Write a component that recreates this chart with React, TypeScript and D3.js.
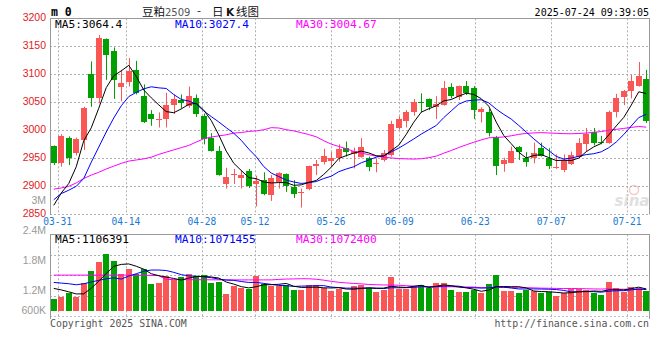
import React from "react";
import * as d3 from "d3";

// trading days shown (03-28 .. 07-24)
const dates = [
  "03-28", "03-31", "04-01", "04-02", "04-03", "04-07", "04-08", "04-09", "04-10", "04-11",
  "04-14", "04-15", "04-16", "04-17", "04-18", "04-21", "04-22", "04-23", "04-24", "04-25",
  "04-28", "04-29", "04-30", "05-06", "05-07", "05-08", "05-09", "05-12", "05-13", "05-14",
  "05-15", "05-16", "05-19", "05-20", "05-21", "05-22", "05-23", "05-26", "05-27", "05-28",
  "05-29", "05-30", "06-03", "06-04", "06-05", "06-06", "06-09", "06-10", "06-11", "06-12",
  "06-13", "06-16", "06-17", "06-18", "06-19", "06-20", "06-23", "06-24", "06-25", "06-26",
  "06-27", "06-30", "07-01", "07-02", "07-03", "07-04", "07-07", "07-08", "07-09", "07-10",
  "07-11", "07-14", "07-15", "07-16", "07-17", "07-18", "07-21", "07-22", "07-23", "07-24",
];

const opens = [
  2972, 2942, 2986, 2960, 2983, 3100, 3057, 3163, 3142, 3078,
  3087, 3108, 3061, 3029, 3020, 3020, 3046, 3054, 3044, 3057,
  3026, 2986, 2963, 2904, 2920, 2914, 2927, 2904, 2911, 2885,
  2908, 2922, 2898, 2888, 2895, 2937, 2944, 2945, 2951, 2968,
  2957, 2953, 2950, 2940, 2947, 2956, 3004, 3016, 3032, 3050,
  3056, 3041, 3045, 3078, 3060, 3079, 3076, 3033, 3033, 2988,
  2940, 2942, 2970, 2951, 2951, 2968, 2951, 2934, 2929, 2940,
  2953, 2976, 2997, 2980, 2978, 3032, 3060, 3070, 3080, 3091,
];
const highs = [
  2973, 2993, 2989, 2987, 3042, 3123, 3170, 3164, 3148, 3108,
  3129, 3124, 3082, 3036, 3032, 3067, 3064, 3064, 3078, 3064,
  3030, 2995, 2972, 2933, 2931, 2929, 2931, 2919, 2925, 2920,
  2925, 2923, 2911, 2896, 2937, 2947, 2967, 2961, 2975, 2980,
  2969, 2986, 2953, 2950, 2965, 3017, 3025, 3036, 3056, 3066,
  3057, 3061, 3088, 3084, 3080, 3088, 3079, 3041, 3038, 2990,
  2951, 2971, 2972, 2961, 2978, 2978, 2968, 2957, 2957, 2962,
  2986, 3004, 3004, 2990, 3035, 3065, 3072, 3099, 3122, 3108,
];
const lows = [
  2938, 2935, 2938, 2955, 2965, 3042, 3048, 3090, 3056, 3052,
  3078, 3064, 3013, 3008, 3005, 3005, 3029, 3039, 3040, 3024,
  2975, 2962, 2919, 2896, 2904, 2896, 2897, 2864, 2884, 2874,
  2896, 2890, 2879, 2862, 2893, 2920, 2939, 2935, 2944, 2953,
  2932, 2951, 2927, 2925, 2944, 2953, 3001, 3005, 3026, 3032,
  3036, 3020, 3044, 3057, 3054, 3063, 3020, 3014, 2989, 2920,
  2926, 2941, 2947, 2935, 2941, 2953, 2931, 2931, 2925, 2938,
  2951, 2962, 2973, 2975, 2976, 3023, 3045, 3057, 3078, 3013,
];
const closes = [
  2942, 2990, 2951, 2984, 3040, 3057, 3165, 3135, 3090, 3084,
  3106, 3066, 3014, 3020, 3021, 3046, 3056, 3048, 3061, 3030,
  2985, 2963, 2920, 2916, 2922, 2920, 2900, 2910, 2886, 2914,
  2923, 2900, 2886, 2890, 2936, 2940, 2954, 2951, 2967, 2962,
  2963, 2971, 2935, 2942, 2959, 3011, 3020, 3032, 3050, 3049,
  3041, 3047, 3076, 3062, 3079, 3067, 3036, 3038, 2995, 2937,
  2947, 2963, 2962, 2944, 2959, 2955, 2937, 2935, 2947, 2956,
  2977, 2994, 2978, 2978, 3032, 3057, 3070, 3088, 3097, 3016,
];
const volumes = [
  880000, 935000, 1013000, 935000, 1255000, 1535000, 1753000, 1932000, 1769000, 1480000,
  1590000, 1480000, 1590000, 1231000, 1255000, 1418000, 1325000, 1402000, 1465000, 1426000,
  1442000, 1255000, 1278000, 997000, 1184000, 1145000, 1107000, 1418000, 1224000, 1192000,
  1192000, 1208000, 1091000, 1083000, 1208000, 1208000, 1130000, 1075000, 1114000, 1052000,
  1192000, 1208000, 1145000, 1052000, 1091000, 1403000, 1114000, 1107000, 1184000, 1208000,
  1145000, 1263000, 1263000, 1091000, 1052000, 1052000, 1091000, 1029000, 1231000, 1442000,
  1075000, 1075000, 1029000, 1091000, 1075000, 1013000, 1052000, 958000, 1013000, 1114000,
  1114000, 1091000, 1013000, 974000, 1286000, 1145000, 1052000, 1169000, 1145000, 1075000,
];

// moving average values before a full window exists
const ma5Head = [2866, 2888, 2905, 2935];
const ma10Head = [2876, 2887, 2893, 2900, 2914, 2943, 2970, 2997, 3022];
const ma30Head = [
  2895, 2897, 2900, 2906, 2914, 2920, 2925, 2931, 2936, 2941,
  2945, 2947, 2949, 2952, 2957, 2961, 2965, 2969, 2973, 2979,
  2985, 2988, 2990, 2992, 2995, 2996, 2998, 2999, 3001,
];
const volMa5Head = [1130000, 1095000, 1050000, 1000000];
const volMa10Head = [1270000, 1255000, 1240000, 1216000, 1240000, 1280000, 1320000, 1355000, 1380000];
const volMa30Head = [
  1442000, 1442000, 1442000, 1442000, 1442000, 1442000, 1442000, 1442000, 1442000, 1442000,
  1442000, 1440000, 1438000, 1435000, 1430000, 1340000, 1338000, 1336000, 1335000, 1334000,
  1333000, 1332000, 1331000, 1330000, 1330000, 1330000, 1330000, 1330000, 1330000,
];

const priceTicks = [3200, 3150, 3100, 3050, 3000, 2950, 2900, 2850];
const volTicks = [3000000, 2400000, 1800000, 1200000, 600000];
const volTickLabels = ["3M", "2.4M", "1.8M", "1.2M", "600K"];
const dateTicks = ["03-31", "04-14", "04-28", "05-12", "05-26", "06-09", "06-23", "07-07", "07-21"];

const RED = "#fa5656";
const GREEN = "#00a000";
const MONO = "'DejaVu Sans Mono', monospace";
const CJK = "'Noto Sans CJK SC', sans-serif";

const movingAvg = (vals: number[], n: number, head: number[]) =>
  vals.map((_, i) => (i < n - 1 ? head[i] : d3.mean(vals.slice(i - n + 1, i + 1)) as number));

const App = () => {
  const W = 660;
  const H = 360;
  const left = 50;
  const right = 650;
  const volTop = 234.3;
  const volBottom = 316;

  const xBand = d3.scaleBand().domain(dates).range([left, right]).paddingInner(0.2).paddingOuter(0.1);
  const bw = xBand.bandwidth();
  const cx = (i: number) => (xBand(dates[i]) as number) + bw / 2;
  const xGrid = d3.scalePoint().domain(dates).range([left, right]);

  const yPrice = d3.scaleLinear().domain([2850, 3200]).range([214.3, 18.3]);
  const yVol = d3.scaleLinear().domain([600000, 2400000]).range([311, volTop]);
  const yVolLabel = d3.scaleLinear().domain([0, 3000000]).range([350, 200]);

  const ma5 = movingAvg(closes, 5, ma5Head);
  const ma10 = movingAvg(closes, 10, ma10Head);
  const ma30 = movingAvg(closes, 30, ma30Head);
  const vma5 = movingAvg(volumes, 5, volMa5Head);
  const vma10 = movingAvg(volumes, 10, volMa10Head);
  const vma30 = movingAvg(volumes, 30, volMa30Head);

  const priceLine = d3.line<number>().x((_, i) => cx(i)).y((d) => yPrice(d));
  const volLine = d3.line<number>().x((_, i) => cx(i)).y((d) => yVol(d));

  const volGrid = d3.range(1, 4).map((k) => volTop + (k * (volBottom - volTop)) / 4);

  return (
    <svg
      width={W}
      height={H}
      style={{ position: "absolute", left: 0, top: 0, background: "#fff" }}
    >
      {/* header */}
      <text x={51} y={16} fontFamily={MONO} fontWeight="bold" fontSize={11.5} fill="#000">
        m 0
      </text>
      <text x={142} y={16} fontFamily={CJK} fontSize={11.5} fill="#111">豆粕</text>
      <text x={165} y={16} fontFamily="'DejaVu Sans', sans-serif" fontSize={10} fill="#555">2509</text>
      <text x={197} y={15} fontFamily={CJK} fontSize={11.5} fill="#111">-</text>
      <text x={212} y={16} fontFamily={CJK} fontSize={11.5} fill="#111">日</text>
      <text x={226} y={16} fontFamily="'DejaVu Sans', sans-serif" fontWeight="bold" fontSize={10.5} fill="#111">K</text>
      <text x={236} y={16} fontFamily={CJK} fontSize={11.5} fill="#111">线图</text>
      <text x={649} y={16} textAnchor="end" fontFamily={MONO} fontSize={10} fill="#000">
        2025-07-24 09:39:05
      </text>

      {/* price grid */}
      {priceTicks.slice(1).map((t) => (
        <line key={t} x1={left} x2={right} y1={Math.round(yPrice(t)) + 0.5} y2={Math.round(yPrice(t)) + 0.5}
          stroke="#b0b0b0" strokeDasharray="2,2" />
      ))}
      {dateTicks.map((d) => (
        <line key={d} x1={Math.round(xGrid(d) as number) + 0.5} x2={Math.round(xGrid(d) as number) + 0.5}
          y1={yPrice(3200)} y2={yPrice(2850)} stroke="#b0b0b0" strokeDasharray="2,2" />
      ))}
      <line x1={left} x2={right} y1={18.5} y2={18.5} stroke="#999" />
      <line x1={left + 0.5} x2={left + 0.5} y1={18.5} y2={214.5} stroke="#999" />
      <line x1={right - 0.5} x2={right - 0.5} y1={18.5} y2={214.5} stroke="#999" />

      {/* price labels */}
      {priceTicks.map((t) => (
        <text key={t} x={46} y={yPrice(t) + 2.5} textAnchor="end" fontFamily="'Liberation Sans', sans-serif"
          fontSize={10.5} fill="#e01c1c">{t}</text>
      ))}
      <text x={46} y={yVolLabel(volTicks[0]) + 3.5} textAnchor="end" fontFamily="'Liberation Sans', sans-serif"
        fontSize={10.5} fill="#999">{volTickLabels[0]}</text>

      {/* sina watermark */}
      <g opacity={0.55}>
        <circle cx={634} cy={190} r={4.5} fill="none" stroke="#f0a0a0" strokeWidth={1.5} />
        <text x={632} y={206} textAnchor="middle" fontFamily="'DejaVu Sans', sans-serif" fontStyle="italic"
          fontWeight="bold" fontSize={15} fill="#c8c8c8">sina</text>
      </g>

      {/* candles */}
      {dates.map((d, i) => {
        const up = closes[i] >= opens[i];
        const color = up ? RED : GREEN;
        const x = xBand(d) as number;
        const yTop = yPrice(Math.max(opens[i], closes[i]));
        const yBot = yPrice(Math.min(opens[i], closes[i]));
        const wx = Math.round(cx(i)) + 0.5;
        return (
          <g key={d}>
            <line x1={wx} x2={wx} y1={yPrice(highs[i])} y2={yPrice(lows[i])} stroke={color} />
            <rect x={Math.round(x)} y={yTop} width={Math.round(bw)} height={Math.max(1, yBot - yTop)}
              fill={color} shapeRendering="crispEdges" />
          </g>
        );
      })}

      {/* price MAs */}
      <path d={priceLine(ma30) as string} fill="none" stroke="#ff00ff" strokeWidth={1} />
      <path d={priceLine(ma10) as string} fill="none" stroke="#0000ff" strokeWidth={1} />
      <path d={priceLine(ma5) as string} fill="none" stroke="#000" strokeWidth={1} />

      {/* price legend */}
      <text x={55} y={27.5} fontFamily={MONO} fontSize={11.2} fill="#000">MA5:3064.4</text>
      <text x={175} y={27.5} fontFamily={MONO} fontSize={11.2} fill="#0000ff">MA10:3027.4</text>
      <text x={296} y={27.5} fontFamily={MONO} fontSize={11.2} fill="#ff00ff">MA30:3004.67</text>

      {/* date labels */}
      {dateTicks.map((d) => (
        <text key={d} x={xGrid(d) as number} y={225} textAnchor="middle" fontFamily={MONO} fontSize={9.6}
          fill="#1a7ad4">{d}</text>
      ))}

      {/* volume grid */}
      {volGrid.map((y) => (
        <line key={y} x1={left} x2={right} y1={Math.round(y) + 0.5} y2={Math.round(y) + 0.5}
          stroke="#b0b0b0" strokeDasharray="2,2" />
      ))}
      <line x1={left} x2={right} y1={Math.round(volBottom) + 0.5} y2={Math.round(volBottom) + 0.5}
        stroke="#c0c0c0" strokeDasharray="2,2" />
      {dateTicks.map((d) => (
        <line key={d} x1={Math.round(xGrid(d) as number) + 0.5} x2={Math.round(xGrid(d) as number) + 0.5}
          y1={volTop} y2={volBottom + 3} stroke="#b0b0b0" strokeDasharray="2,2" />
      ))}
      <line x1={left} x2={right} y1={volTop + 0.2} y2={volTop + 0.2} stroke="#999" />
      <line x1={left + 0.5} x2={left + 0.5} y1={volTop} y2={volBottom + 3} stroke="#999" />
      <line x1={right - 0.5} x2={right - 0.5} y1={volTop} y2={volBottom + 3} stroke="#999" />

      {/* volume labels */}
      {volTicks.slice(1).map((v, k) => (
        <text key={v} x={46} y={Math.min(yVolLabel(v), 310.7) + 3.5} textAnchor="end"
          fontFamily="'Liberation Sans', sans-serif" fontSize={10.5} fill="#999">{volTickLabels[k + 1]}</text>
      ))}

      {/* volume bars */}
      {dates.map((d, i) => {
        const up = closes[i] >= opens[i];
        const y = yVol(volumes[i]);
        return (
          <rect key={d} x={Math.round(xBand(d) as number)} y={y} width={Math.round(bw)} height={yVol(600000) - y}
            fill={up ? RED : GREEN} shapeRendering="crispEdges" />
        );
      })}

      {/* volume MAs */}
      <path d={volLine(vma30) as string} fill="none" stroke="#ff00ff" strokeWidth={1} />
      <path d={volLine(vma10) as string} fill="none" stroke="#0000ff" strokeWidth={1} />
      <path d={volLine(vma5) as string} fill="none" stroke="#000" strokeWidth={1} />

      {/* volume legend */}
      <text x={55} y={242.5} fontFamily={MONO} fontSize={11.2} fill="#000">MA5:1106391</text>
      <text x={175} y={242.5} fontFamily={MONO} fontSize={11.2} fill="#0000ff">MA10:1071455</text>
      <text x={296} y={242.5} fontFamily={MONO} fontSize={11.2} fill="#ff00ff">MA30:1072400</text>

      {/* footer */}
      <text x={50} y={327} fontFamily={MONO} fontSize={9.9} fill="#555">Copyright 2025 SINA.COM</text>
      <text x={649} y={327} textAnchor="end" fontFamily={MONO} fontSize={9.9} fill="#555">
        http://finance.sina.com.cn
      </text>
    </svg>
  );
};

export default App;
